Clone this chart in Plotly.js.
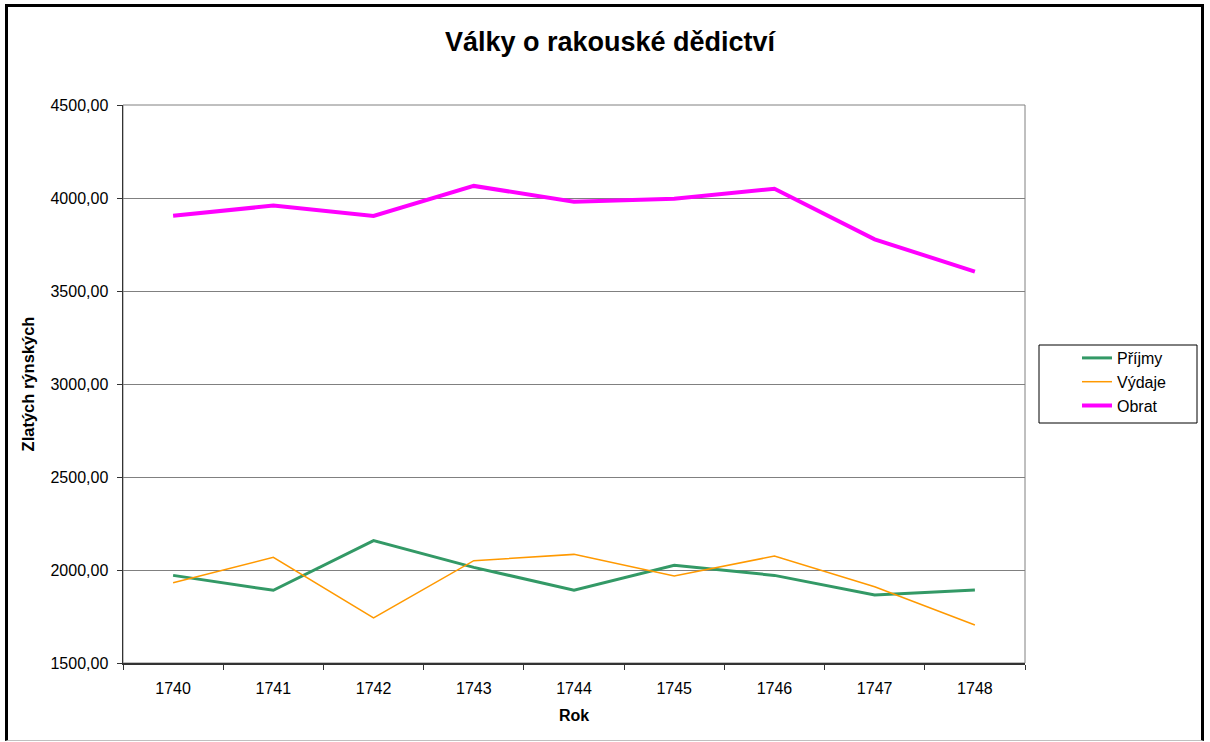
<!DOCTYPE html>
<html>
<head>
<meta charset="utf-8">
<script src="https://cdn.plot.ly/plotly-3.0.1.min.js"></script>
<style>
html,body{margin:0;padding:0;background:#fff;}
#wrap{position:relative;width:1210px;height:742px;}
#chart{position:absolute;left:0;top:0;width:1210px;height:742px;}
#frame{position:absolute;left:5px;top:4px;width:1199px;height:737px;border-left:3px solid #000;border-top:3px solid #000;border-right:3px solid #000;border-bottom:1px solid #c0c0c0;box-sizing:border-box;pointer-events:none;}
</style>
</head>
<body>
<div id="wrap"><div id="chart"></div><div id="frame"></div></div>
<script>
const years = ['1740','1741','1742','1743','1744','1745','1746','1747','1748'];
const prijmy = [1971, 1891, 2158, 2014, 1892, 2025, 1971, 1866, 1892];
const vydaje = [1932, 2068, 1742, 2050, 2084, 1968, 2075, 1910, 1704];
const obrat  = [3905, 3959, 3903, 4065, 3980, 3996, 4050, 3778, 3604];
const seriesNames = ['Příjmy', 'Výdaje', 'Obrat'];

const FONT = 'Arial, "Liberation Sans", sans-serif';

const traces = [
  {x: years, y: prijmy, name: seriesNames[0], type: 'scatter', mode: 'lines',
   line: {color: '#339966', width: 3}, legendgroup: 'a'},
  {x: years, y: vydaje, name: seriesNames[1], type: 'scatter', mode: 'lines',
   line: {color: '#FF9900', width: 1.5}, legendgroup: 'b'},
  {x: years, y: obrat, name: seriesNames[2], type: 'scatter', mode: 'lines',
   line: {color: '#FF00FF', width: 4}, legendgroup: 'c'}
];

const L = 123, R = 1025, T = 105, B = 663;
const PW = R - L, PH = B - T;
function px(x){ return (x - L) / PW; }
function py(y){ return (B - y) / PH; }

const layout = {
  width: 1210, height: 742,
  margin: {l: L, r: 1210 - R, t: T, b: 742 - B, pad: 0},
  paper_bgcolor: '#fff', plot_bgcolor: '#fff',
  separators: ', ',
  font: {family: FONT, size: 16, color: '#000'},
  showlegend: true,
  title: {text: '<b>Války o rakouské dědictví</b>', font: {family: FONT, size: 27, color: '#000'},
          x: 610/1210, xanchor: 'center', xref: 'container', y: 1 - 42/742, yanchor: 'middle'},
  xaxis: {
    type: 'category', range: [-0.5, 8.5],
    showline: true, linecolor: '#333', linewidth: 1.5,
    ticks: 'outside', tickson: 'boundaries', ticklen: 5, tickcolor: '#333',
    showgrid: false, zeroline: false,
    tickfont: {family: FONT, size: 16, color: '#000'},
    ticklabelstandoff: 10,
    title: {text: '<b>Rok</b>', font: {family: FONT, size: 16, color: '#000'}, standoff: 14}
  },
  yaxis: {
    range: [1500, 4500], dtick: 500, tick0: 1500, tickformat: '.2f',
    showline: true, linecolor: '#333', linewidth: 1.5,
    ticks: 'outside', ticklen: 5, tickcolor: '#333',
    showgrid: true, gridcolor: '#808080', gridwidth: 1, zeroline: false,
    tickfont: {family: FONT, size: 16, color: '#000'},
    ticklabelstandoff: 5,
    title: {text: '<b>Zlatých rýnských</b>', font: {family: FONT, size: 16.5, color: '#000'}, standoff: 11}
  },
  legend: {
    x: px(1077), y: py(341), xanchor: 'left', yanchor: 'top',
    bgcolor: 'rgba(0,0,0,0)', borderwidth: 0,
    font: {family: FONT, size: 16, color: '#000'},
    tracegroupgap: 10, itemwidth: 30,
    traceorder: 'normal'
  },
  shapes: [
    {type: 'rect', xref: 'paper', yref: 'paper', x0: 0, x1: 1, y0: 0, y1: 1,
     line: {color: '#808080', width: 1}, layer: 'below'},
    {type: 'rect', xref: 'paper', yref: 'paper', x0: px(1039), x1: px(1197), y0: py(423), y1: py(345),
     line: {color: '#000', width: 1}, fillcolor: 'rgba(0,0,0,0)'}
  ]
};

Plotly.newPlot('chart', traces, layout, {displayModeBar: false, staticPlot: true});
</script>
</body>
</html>
